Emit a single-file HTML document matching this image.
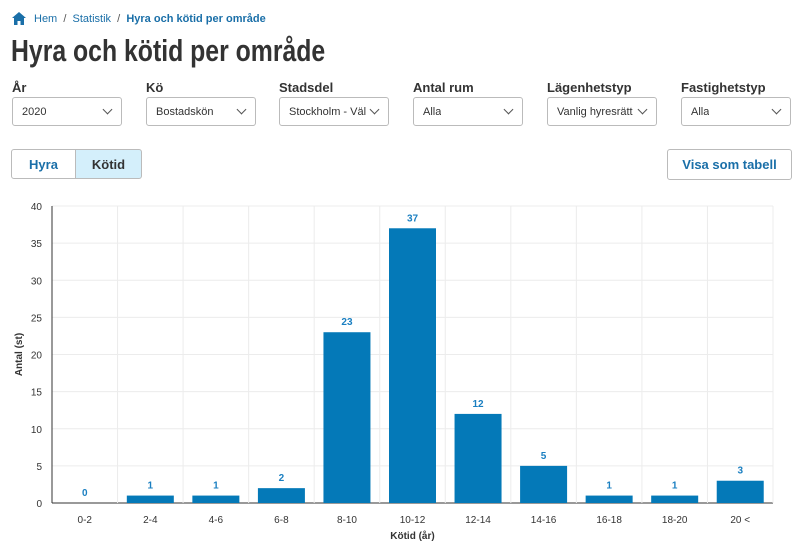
<!DOCTYPE html>
<html><head><meta charset="utf-8"><style>
body{margin:0;width:800px;height:552px;background:#fff;font-family:"Liberation Sans","DejaVu Sans",sans-serif;position:relative;overflow:hidden;color:#333}
.a{position:absolute}
.crumb{top:13px;left:34px;font-size:11px;color:#1a6fa8}
.title{top:33px;left:11px;font-weight:bold;font-size:31px;color:#333;transform:scaleX(0.8);transform-origin:0 0;white-space:nowrap}
.lbl{top:80px;font-size:13px;font-weight:bold;color:#333}
.sel{top:97px;border:1px solid #bbb;border-radius:3px;font-size:11px;line-height:29px;padding-left:9px;box-sizing:border-box;width:110px;height:29px;color:#333;white-space:nowrap;overflow:hidden}
.sel .txt{display:inline-block;max-width:77px;overflow:hidden;vertical-align:top}
.sel span.chev{position:absolute;right:10px;top:8px;width:6px;height:6px;border-right:1px solid #555;border-bottom:1px solid #555;transform:rotate(45deg)}
.tab{top:149px;height:30px;font-size:13px;font-weight:bold;color:#1a6fa8;text-align:center;line-height:30px;box-sizing:border-box;border:1px solid #bbb}
</style></head><body>
<div class="a" style="left:12px;top:12px;width:14px;height:13px">
<svg width="14" height="13" viewBox="0 0 14 13"><path d="M7 0 L14 6 L12 6 L12 13 L8.5 13 L8.5 9 L5.5 9 L5.5 13 L2 13 L2 6 L0 6 Z" fill="#1a6fa8"/></svg></div>
<div class="a crumb"><span>Hem</span> <span style="color:#555">&nbsp;/&nbsp;</span> <span>Statistik</span> <span style="color:#555">&nbsp;/&nbsp;</span> <b>Hyra och kötid per område</b></div>
<div class="a title">Hyra och kötid per område</div>

<div class="a lbl" style="left:12px">År</div>
<div class="a sel" style="left:12px"><span class="txt">2020</span><span class="chev"></span></div>
<div class="a lbl" style="left:146px">Kö</div>
<div class="a sel" style="left:146px"><span class="txt">Bostadskön</span><span class="chev"></span></div>
<div class="a lbl" style="left:279px">Stadsdel</div>
<div class="a sel" style="left:279px"><span class="txt">Stockholm - Vällingby</span><span class="chev"></span></div>
<div class="a lbl" style="left:413px">Antal rum</div>
<div class="a sel" style="left:413px"><span class="txt">Alla</span><span class="chev"></span></div>
<div class="a lbl" style="left:547px">Lägenhetstyp</div>
<div class="a sel" style="left:547px"><span class="txt" style="max-width:80px">Vanlig hyresrätt</span><span class="chev"></span></div>
<div class="a lbl" style="left:681px">Fastighetstyp</div>
<div class="a sel" style="left:681px"><span class="txt">Alla</span><span class="chev"></span></div>

<div class="a tab" style="left:11px;width:65px;border-radius:3px 0 0 3px">Hyra</div>
<div class="a tab" style="left:75px;width:67px;background:#d4effb;color:#333;border-radius:0 3px 3px 0">Kötid</div>
<div class="a tab" style="left:667px;width:125px;border-radius:3px;height:31px">Visa som tabell</div>

<svg class="a" style="left:0;top:0" width="800" height="552" id="chart"></svg>
<script>
const categories=["0-2","2-4","4-6","6-8","8-10","10-12","12-14","14-16","16-18","18-20","20 <"];
const values=[0,1,1,2,23,37,12,5,1,1,3];
const yTicks=[0,5,10,15,20,25,30,35,40];
const NS="http://www.w3.org/2000/svg";
const svg=document.getElementById('chart');
const L=52,R=773,T=206,B=503,yMax=40;
const bw=(R-L)/categories.length;
const y=v=>B-(v/yMax)*(B-T);
const x=i=>L+i*bw;
function mk(t,a,txt){const e=document.createElementNS(NS,t);for(const k in a)e.setAttribute(k,a[k]);if(txt!==undefined)e.textContent=txt;svg.appendChild(e);return e;}
yTicks.forEach(t=>{
  const g=mk('line',{x1:L,x2:R,y1:y(t),y2:y(t),stroke:t===0?'#333':'#ececec','stroke-width':1});
  
  
  const l=mk('text',{x:L-10,y:y(t)+4,'text-anchor':'end','font-size':10,fill:'#333','font-family':'Liberation Sans, sans-serif'},String(t));
  
  
});
for(let i=1;i<=categories.length;i++){
  const g=mk('line',{x1:x(i),x2:x(i),y1:T,y2:B,stroke:'#ececec','stroke-width':1});
  
  
}
const ax=mk('line',{x1:L,x2:L,y1:T,y2:B,stroke:'#333','stroke-width':1});


categories.forEach((c,i)=>{
  const cx=x(i)+bw/2, v=values[i], w=47;
  const r=mk('rect',{x:cx-w/2,y:y(v),width:w,height:B-y(v),fill:'#0479b8'});
  
  
  const vl=mk('text',{x:cx,y:y(v)-7,'text-anchor':'middle','font-size':10,'font-weight':'bold',fill:'#1a7fc1','font-family':'Liberation Sans, sans-serif'},String(v));
  
  
  const xl=mk('text',{x:cx,y:B+20,'text-anchor':'middle','font-size':10,fill:'#333','font-family':'Liberation Sans, sans-serif'},c);
  
  
});
const xt=mk('text',{x:(L+R)/2,y:B+36,'text-anchor':'middle','font-size':10,'font-weight':'bold',fill:'#333','font-family':'Liberation Sans, sans-serif'},'Kötid (år)');


const yt=mk('text',{x:0,y:0,transform:`translate(22,${(T+B)/2}) rotate(-90)`,'text-anchor':'middle','font-size':10,'font-weight':'bold',fill:'#333','font-family':'Liberation Sans, sans-serif'},'Antal (st)');


</script>
</body></html>
